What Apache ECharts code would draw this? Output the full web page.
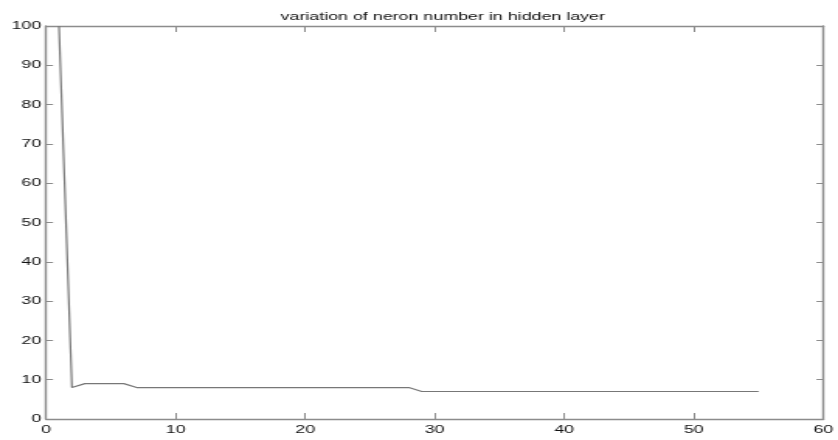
<!DOCTYPE html>
<html>
<head>
<meta charset="utf-8">
<script src="https://cdn.jsdelivr.net/npm/echarts@6/dist/echarts.min.js"></script>
<style>
  html, body { margin: 0; padding: 0; background: #fff; overflow: hidden; }
  #frame { width: 838px; height: 440px; overflow: hidden; }
  /* the figure is drawn narrow and widened, giving the broad lettering of the plot */
  #chart { width: 540px; height: 440px; transform: scaleX(1.55185); transform-origin: 0 0; }
</style>
</head>
<body>
<div id="frame"><div id="chart"></div></div>
<script>
// Neuron count over iterations
const iterations = [1, 2, 3, 6, 7, 28, 29, 55];
const neurons    = [100, 8, 9, 9, 8, 8, 7, 7];

const titleText = 'variation of neron number in hidden layer';
const xTicks = [0, 10, 20, 30, 40, 50, 60];
const yTicks = [0, 10, 20, 30, 40, 50, 60, 70, 80, 90, 100];

const points = iterations.map((x, i) => [x, neurons[i]]);

const SX = 1.55185;            // horizontal widening applied to the chart box
const axisColor = '#8c8c8c';
const labelStyle = { color: '#111', fontFamily: 'Liberation Sans, Arial, sans-serif', fontSize: 11.5 };

function axisBase(min, max, interval, tickLen) {
  return {
    type: 'value', min: min, max: max, interval: interval,
    splitLine: { show: false },
    axisLine: { show: true, onZero: false, lineStyle: { color: axisColor, width: 1.4 } },
    axisTick: { show: true, inside: true, length: tickLen, lineStyle: { color: axisColor, width: 1 } }
  };
}

const chart = echarts.init(document.getElementById('chart'), null, { renderer: 'canvas' });
chart.setOption({
  animation: false,
  backgroundColor: '#fff',
  title: {
    text: titleText,
    left: 435 / SX, top: 6, textAlign: 'center',
    textStyle: { fontFamily: 'Liberation Sans, Arial, sans-serif', fontSize: 11.5, fontWeight: 'normal', color: '#111' }
  },
  grid: { left: 46 / SX, right: 13 / SX, top: 26, bottom: 21, containLabel: false },
  xAxis: [
    Object.assign(axisBase(xTicks[0], xTicks[xTicks.length - 1], 10, 6), {
      position: 'bottom',
      axisLabel: Object.assign({ margin: 5 }, labelStyle)
    }),
    Object.assign(axisBase(xTicks[0], xTicks[xTicks.length - 1], 10, 6), {
      position: 'top', axisLabel: { show: false }
    })
  ],
  yAxis: [
    Object.assign(axisBase(yTicks[0], yTicks[yTicks.length - 1], 10, 4.5), {
      position: 'left',
      axisLabel: Object.assign({ margin: 3 }, labelStyle)
    }),
    Object.assign(axisBase(yTicks[0], yTicks[yTicks.length - 1], 10, 4.5), {
      position: 'right', axisLabel: { show: false }
    })
  ],
  series: [{
    type: 'line',
    data: points,
    xAxisIndex: 0, yAxisIndex: 0,
    symbol: 'none',
    lineStyle: { color: '#777', width: 1.2 }
  }]
});
</script>
</body>
</html>
